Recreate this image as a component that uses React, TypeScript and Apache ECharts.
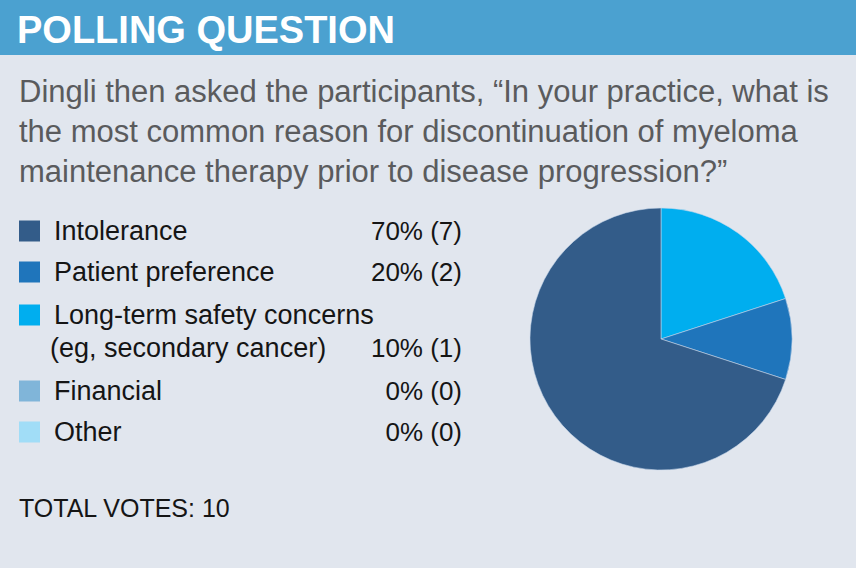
import React, { useEffect, useRef } from "react";
import * as echarts from "echarts";

const titleText = "POLLING QUESTION";
const questionLines = [
  "Dingli then asked the participants, \u201cIn your practice, what is",
  "the most common reason for discontinuation of myeloma",
  "maintenance therapy prior to disease progression?\u201d",
];
const categories = [
  "Intolerance",
  "Patient preference",
  "Long-term safety concerns\n(eg, secondary cancer)",
  "Financial",
  "Other",
];
const votes = [7, 2, 1, 0, 0];
const legendColors = ["#335C89", "#1F75BB", "#00AEEF", "#80B5D9", "#A1DDF7"];
// order and colours of the slices as drawn in the pie (clockwise from 12 o'clock)
const pieOrder = [1, 2, 0];
const pieColors = ["#00AEEF", "#1F75BB", "#335C89"];

export default function App() {
  const ref = useRef<HTMLDivElement>(null);
  useEffect(() => {
    if (!ref.current) return;
    document.body.style.margin = "0";
    const chart = echarts.init(ref.current, null, { renderer: "svg" });
    const total = votes.reduce((a, b) => a + b, 0);

    const rowY = [231, 272, 315, 391, 432]; // centres of legend swatches
    const graphics: any[] = [
      { type: "rect", left: 0, top: 0, shape: { width: 856, height: 55 }, style: { fill: "#4BA1D0" }, z: 1 },
      {
        type: "text",
        x: 17,
        y: 30,
        style: {
          text: titleText,
          font: "bold 38px 'Liberation Sans', Arial, sans-serif",
          fill: "#ffffff",
          verticalAlign: "middle",
        },
        z: 2,
      },
    ];
    questionLines.forEach((line, i) => {
      graphics.push({
        type: "text",
        x: 19,
        y: 91 + i * 40,
        style: {
          text: line,
          font: "31px 'Liberation Sans', Arial, sans-serif",
          fill: "#5A5B5D",
          verticalAlign: "middle",
        },
      });
    });
    categories.forEach((c, i) => {
      graphics.push({
        type: "rect",
        shape: { x: 19, y: rowY[i] - 10.5, width: 21, height: 21 },
        style: { fill: legendColors[i] },
      });
      const lines = c.split("\n");
      lines.forEach((ln, j) => {
        graphics.push({
          type: "text",
          x: ln.startsWith("(") ? 50 : 54,
          y: rowY[i] + j * 33,
          style: {
            text: ln,
            font: "27px 'Liberation Sans', Arial, sans-serif",
            fill: "#151515",
            verticalAlign: "middle",
          },
        });
      });
      const pct = total ? Math.round((votes[i] / total) * 100) : 0;
      graphics.push({
        type: "text",
        x: 462,
        y: rowY[i] + (lines.length - 1) * 33,
        style: {
          text: `${pct}% (${votes[i]})`,
          font: "26px 'Liberation Sans', Arial, sans-serif",
          fill: "#151515",
          align: "right",
          verticalAlign: "middle",
        },
      });
    });
    graphics.push({
      type: "text",
      x: 19,
      y: 508,
      style: {
        text: `TOTAL VOTES: ${total}`,
        font: "25px 'Liberation Sans', Arial, sans-serif",
        fill: "#151515",
        verticalAlign: "middle",
      },
    });

    chart.setOption({
      animation: false,
      backgroundColor: "#E1E6EE",
      graphic: graphics,
      series: [
        {
          type: "pie",
          center: [661, 339],
          radius: 131,
          startAngle: 90,
          clockwise: true,
          label: { show: false },
          labelLine: { show: false },
          silent: true,
          itemStyle: { borderColor: "rgba(200,215,235,0.7)", borderWidth: 0.8 },
          data: pieOrder.map((k, i) => ({
            name: categories[k].replace("\n", " "),
            value: votes[k],
            itemStyle: { color: pieColors[i] },
          })),
        },
      ],
    });
    return () => chart.dispose();
  }, []);
  return (
    <div
      ref={ref}
      style={{ position: "absolute", left: 0, top: 0, width: 856, height: 568 }}
    />
  );
}
